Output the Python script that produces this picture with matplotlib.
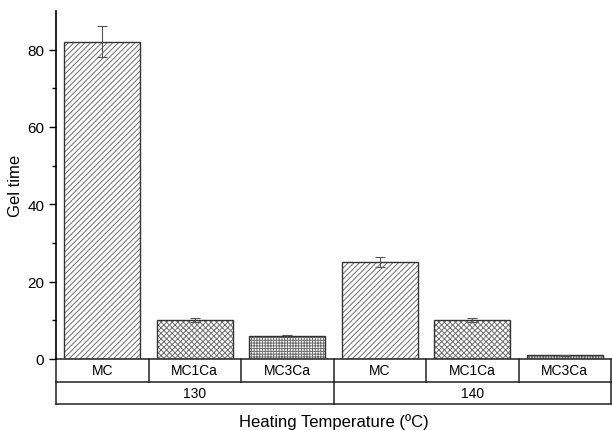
import numpy as np
import matplotlib.pyplot as plt

plt.rcParams['font.family'] = ['Liberation Sans', 'DejaVu Sans']
plt.rcParams['hatch.linewidth'] = 0.7

temps = ['130', '140']
samples = ['MC', 'MC1Ca', 'MC3Ca']
gel_time = [82, 10, 6, 25, 10, 1]
gel_err = [4, 0.5, 0.3, 1.3, 0.5, 0.1]
hatches = ['//////', 'xxxxxx', '++++++']

fig = plt.figure(figsize=(6.12, 4.31), dpi=100)
ax = fig.add_axes([56 / 612, 71 / 431, 555 / 612, 348 / 431])

x = np.arange(len(gel_time))
for i in x:
    # grey hatch first, then a dark outline on top
    ax.bar(i, gel_time[i], width=0.82, color='white', edgecolor='#6e6e6e',
           linewidth=0, hatch=hatches[i % 3], zorder=2)
    ax.bar(i, gel_time[i], width=0.82, fill=False, edgecolor='#333333',
           linewidth=1.0, zorder=2.5)
ax.errorbar(x, gel_time, yerr=gel_err, fmt='none', ecolor='#555555',
            elinewidth=0.8, capsize=3.5, capthick=0.8, zorder=3)

ax.set_xlim(-0.5, len(gel_time) - 0.5)
ax.set_ylim(0, 90)
ax.set_yticks([0, 20, 40, 60, 80])
ax.set_yticks([10, 30, 50, 70], minor=True)
ax.tick_params(axis='y', direction='out', length=5, width=1, labelsize=11)
ax.tick_params(axis='y', which='minor', length=3, width=1)
ax.set_xticks([])
for s in ['top', 'right', 'bottom']:
    ax.spines[s].set_visible(False)
ax.spines['left'].set_linewidth(1.2)
ax.set_ylabel('Gel time', fontsize=12, labelpad=3)

# two-row category table under the bars
tr = ax.get_xaxis_transform()
r1, r2 = -23 / 348, -45 / 348
lk = dict(color='#222222', lw=1.1, clip_on=False, transform=tr)
for y in [0, r1, r2]:
    ax.plot([-0.5, 5.5], [y, y], **lk)
for xb in np.arange(-0.5, 6, 1):
    ax.plot([xb, xb], [0, r1], **lk)
for xb in [-0.5, 2.5, 5.5]:
    ax.plot([xb, xb], [r1, r2], **lk)
for i in x:
    ax.text(i, r1 / 2, samples[i % 3], transform=tr, ha='center', va='center', fontsize=10)
for j, t in enumerate(temps):
    ax.text(1 + 3 * j, (r1 + r2) / 2, t, transform=tr, ha='center', va='center', fontsize=10)

ax.text(2.5, -62 / 348, 'Heating Temperature (ºC)', transform=tr, ha='center', va='center',
        fontsize=12)

fig.savefig('out.png', dpi=100)
